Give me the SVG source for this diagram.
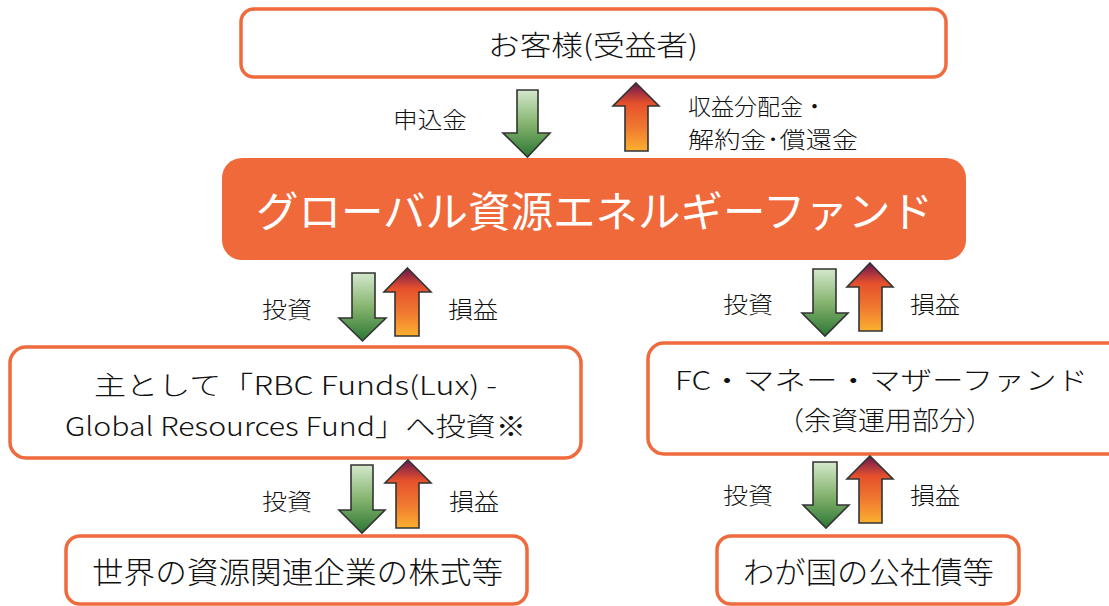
<svg xmlns="http://www.w3.org/2000/svg" width="1109" height="606" viewBox="0 0 1109 606">
<defs>
<linearGradient id="gDown" x1="0" y1="0" x2="0" y2="1">
<stop offset="0" stop-color="#D3E8CC"/>
<stop offset="0.5" stop-color="#86B46F"/>
<stop offset="1" stop-color="#2C7634"/>
</linearGradient>
<linearGradient id="gUp" x1="0" y1="0" x2="0" y2="1">
<stop offset="0" stop-color="#6A1650"/>
<stop offset="0.3" stop-color="#E5502C"/>
<stop offset="0.65" stop-color="#F0782F"/>
<stop offset="1" stop-color="#FBB030"/>
</linearGradient>
<style>
.box{fill:#FFFFFF;stroke:#EF6A3C;stroke-width:3.5}
.main{fill:#F0693B}
.t{font-family:"Noto Sans CJK JP","Noto Sans",sans-serif;font-weight:300;fill:#111111}
.w{font-family:"Noto Sans CJK JP","Noto Sans",sans-serif;font-weight:400;fill:#FFFFFF}
.lbl{font-family:"Noto Sans CJK JP","Noto Sans",sans-serif;font-weight:300;fill:#111111;font-size:23px}
.dn{fill:url(#gDown);stroke:#333333;stroke-width:1.6;stroke-linejoin:miter}
.up{fill:url(#gUp);stroke:#333333;stroke-width:1.6;stroke-linejoin:miter}
</style>
</defs>
<rect width="1109" height="606" fill="#FFFFFF"/>

<g id="node-customer">
<rect class="box" x="241" y="9" width="705" height="68" rx="13"/>
<text class="t" x="488" y="56" font-size="28" textLength="210" lengthAdjust="spacingAndGlyphs">お客様(受益者)</text>
</g>

<g id="node-fund">
<rect class="main" x="222" y="158" width="744" height="102" rx="20"/>
<text class="w" x="256" y="227" font-size="42" textLength="677" lengthAdjust="spacingAndGlyphs">グローバル資源エネルギーファンド</text>
</g>

<g id="node-rbc">
<rect class="box" x="10" y="347" width="571" height="111" rx="16"/>
<text class="t" x="94" y="395" font-size="26" textLength="403" lengthAdjust="spacingAndGlyphs">主として「RBC Funds(Lux) -</text>
<text class="t" x="65" y="436" font-size="26" textLength="461" lengthAdjust="spacingAndGlyphs">Global Resources Fund」へ投資※</text>
</g>

<g id="node-mother">
<rect class="box" x="648" y="343" width="480" height="111" rx="16"/>
<text class="t" x="675" y="390" font-size="26" textLength="413" lengthAdjust="spacingAndGlyphs">FC・マネー・マザーファンド</text>
<text class="t" x="777" y="430" font-size="26" textLength="216" lengthAdjust="spacingAndGlyphs">（余資運用部分）</text>
</g>

<g id="node-stocks">
<rect class="box" x="66" y="536" width="461" height="68" rx="14"/>
<text class="t" x="92" y="583" font-size="30" textLength="411" lengthAdjust="spacingAndGlyphs">世界の資源関連企業の株式等</text>
</g>

<g id="node-bonds">
<rect class="box" x="717" y="536" width="302" height="68" rx="14"/>
<text class="t" x="743" y="583" font-size="30" textLength="251" lengthAdjust="spacingAndGlyphs">わが国の公社債等</text>
</g>

<g id="connectors">
<path class="dn" d="M517,90 H538 V133 H550 L527.5,157 L503,133 H517 Z"/>
<path class="up" d="M636,83 L659,106 H648 V151 H625 V106 H613 Z"/>
<path class="dn" d="M352,273 H375 V318 H386 L362.5,341 L339,318 H352 Z"/>
<path class="up" d="M407.5,268 L431,292 H419 V336 H395 V292 H384 Z"/>
<path class="dn" d="M813,269 H836 V313 H848 L825,336 L802,313 H813 Z"/>
<path class="up" d="M870,263 L893,287 H882 V331 H859 V287 H847 Z"/>
<path class="dn" d="M351,465 H373 V510 H385 L362,533 L339,510 H351 Z"/>
<path class="up" d="M408,460 L431,483 H419 V528 H396 V483 H385 Z"/>
<path class="dn" d="M813,462 H837 V505 H849 L826,528 L803,505 H813 Z"/>
<path class="up" d="M870,456 L893,479 H882 V523 H859 V479 H847 Z"/>
<text class="lbl" x="393" y="128" textLength="74" lengthAdjust="spacingAndGlyphs">申込金</text>
<text class="lbl" x="688" y="115">収益分配金・</text>
<text class="lbl" x="688" y="148" textLength="170" lengthAdjust="spacingAndGlyphs">解約金･償還金</text>
<text class="lbl" x="262" y="318" textLength="50" lengthAdjust="spacingAndGlyphs">投資</text>
<text class="lbl" x="448" y="318" textLength="50" lengthAdjust="spacingAndGlyphs">損益</text>
<text class="lbl" x="723" y="313" textLength="50" lengthAdjust="spacingAndGlyphs">投資</text>
<text class="lbl" x="910" y="313" textLength="50" lengthAdjust="spacingAndGlyphs">損益</text>
<text class="lbl" x="262" y="510" textLength="50" lengthAdjust="spacingAndGlyphs">投資</text>
<text class="lbl" x="449" y="510" textLength="50" lengthAdjust="spacingAndGlyphs">損益</text>
<text class="lbl" x="723" y="504" textLength="50" lengthAdjust="spacingAndGlyphs">投資</text>
<text class="lbl" x="910" y="504" textLength="50" lengthAdjust="spacingAndGlyphs">損益</text>
</g>
</svg>
